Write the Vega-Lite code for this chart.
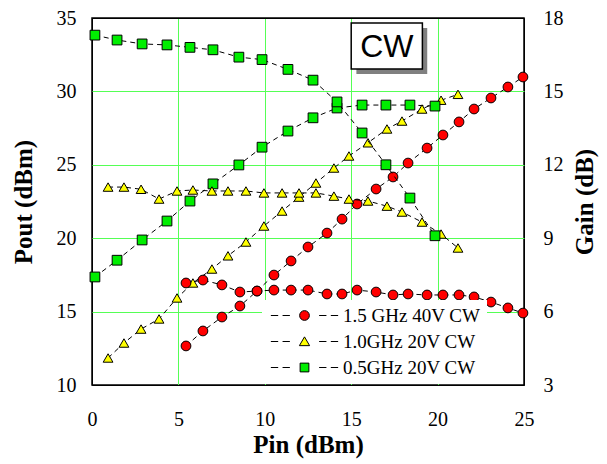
{
  "$schema": "https://vega.github.io/schema/vega-lite/v6.json",
  "width": 432,
  "height": 367,
  "autosize": {"type": "none"},
  "padding": {"left": 92, "top": 18, "right": 83, "bottom": 79},
  "background": "white",
  "data": {
    "values": [
      {"s": "1.5 GHz 40V CW", "pin": 5.44, "pout": 12.66, "gain": 7.17},
      {"s": "1.5 GHz 40V CW", "pin": 6.42, "pout": 13.68, "gain": 7.29},
      {"s": "1.5 GHz 40V CW", "pin": 7.52, "pout": 14.63, "gain": 7.09},
      {"s": "1.5 GHz 40V CW", "pin": 8.56, "pout": 15.38, "gain": 6.8},
      {"s": "1.5 GHz 40V CW", "pin": 9.55, "pout": 16.4, "gain": 6.84},
      {"s": "1.5 GHz 40V CW", "pin": 10.53, "pout": 17.49, "gain": 6.88},
      {"s": "1.5 GHz 40V CW", "pin": 11.52, "pout": 18.45, "gain": 6.88},
      {"s": "1.5 GHz 40V CW", "pin": 12.5, "pout": 19.4, "gain": 6.88},
      {"s": "1.5 GHz 40V CW", "pin": 13.6, "pout": 20.35, "gain": 6.72},
      {"s": "1.5 GHz 40V CW", "pin": 14.47, "pout": 21.3, "gain": 6.72},
      {"s": "1.5 GHz 40V CW", "pin": 15.34, "pout": 22.33, "gain": 6.88},
      {"s": "1.5 GHz 40V CW", "pin": 16.44, "pout": 23.35, "gain": 6.8},
      {"s": "1.5 GHz 40V CW", "pin": 17.42, "pout": 24.17, "gain": 6.68},
      {"s": "1.5 GHz 40V CW", "pin": 18.29, "pout": 25.12, "gain": 6.72},
      {"s": "1.5 GHz 40V CW", "pin": 19.39, "pout": 26.14, "gain": 6.68},
      {"s": "1.5 GHz 40V CW", "pin": 20.31, "pout": 27.03, "gain": 6.68},
      {"s": "1.5 GHz 40V CW", "pin": 21.24, "pout": 27.92, "gain": 6.68},
      {"s": "1.5 GHz 40V CW", "pin": 22.11, "pout": 28.8, "gain": 6.6},
      {"s": "1.5 GHz 40V CW", "pin": 23.09, "pout": 29.55, "gain": 6.39},
      {"s": "1.5 GHz 40V CW", "pin": 24.07, "pout": 30.3, "gain": 6.15},
      {"s": "1.5 GHz 40V CW", "pin": 24.94, "pout": 30.98, "gain": 5.94},
      {"s": "1.0GHz 20V CW", "pin": 0.93, "pout": 11.84, "gain": 11.09},
      {"s": "1.0GHz 20V CW", "pin": 1.85, "pout": 12.86, "gain": 11.09},
      {"s": "1.0GHz 20V CW", "pin": 2.84, "pout": 13.81, "gain": 11.0},
      {"s": "1.0GHz 20V CW", "pin": 3.88, "pout": 14.5, "gain": 10.6},
      {"s": "1.0GHz 20V CW", "pin": 4.92, "pout": 15.93, "gain": 10.93},
      {"s": "1.0GHz 20V CW", "pin": 5.84, "pout": 16.95, "gain": 10.97},
      {"s": "1.0GHz 20V CW", "pin": 6.94, "pout": 17.9, "gain": 10.93},
      {"s": "1.0GHz 20V CW", "pin": 7.87, "pout": 18.8, "gain": 10.93},
      {"s": "1.0GHz 20V CW", "pin": 8.91, "pout": 19.74, "gain": 10.93},
      {"s": "1.0GHz 20V CW", "pin": 9.95, "pout": 20.83, "gain": 10.85},
      {"s": "1.0GHz 20V CW", "pin": 11.0, "pout": 21.85, "gain": 10.85},
      {"s": "1.0GHz 20V CW", "pin": 11.98, "pout": 22.8, "gain": 10.85},
      {"s": "1.0GHz 20V CW", "pin": 12.96, "pout": 23.76, "gain": 10.85},
      {"s": "1.0GHz 20V CW", "pin": 14.0, "pout": 24.78, "gain": 10.72},
      {"s": "1.0GHz 20V CW", "pin": 14.87, "pout": 25.6, "gain": 10.6},
      {"s": "1.0GHz 20V CW", "pin": 15.97, "pout": 26.5, "gain": 10.52},
      {"s": "1.0GHz 20V CW", "pin": 17.07, "pout": 27.44, "gain": 10.31},
      {"s": "1.0GHz 20V CW", "pin": 17.94, "pout": 27.98, "gain": 10.07},
      {"s": "1.0GHz 20V CW", "pin": 19.1, "pout": 28.8, "gain": 9.66},
      {"s": "1.0GHz 20V CW", "pin": 20.2, "pout": 29.4, "gain": 9.17},
      {"s": "1.0GHz 20V CW", "pin": 21.18, "pout": 29.8, "gain": 8.6},
      {"s": "0.5GHz 20V CW", "pin": 0.17, "pout": 17.36, "gain": 17.3},
      {"s": "0.5GHz 20V CW", "pin": 1.45, "pout": 18.5, "gain": 17.1},
      {"s": "0.5GHz 20V CW", "pin": 2.9, "pout": 19.88, "gain": 16.94},
      {"s": "0.5GHz 20V CW", "pin": 4.34, "pout": 21.17, "gain": 16.9},
      {"s": "0.5GHz 20V CW", "pin": 5.67, "pout": 22.53, "gain": 16.8},
      {"s": "0.5GHz 20V CW", "pin": 7.0, "pout": 23.7, "gain": 16.7},
      {"s": "0.5GHz 20V CW", "pin": 8.5, "pout": 24.99, "gain": 16.4},
      {"s": "0.5GHz 20V CW", "pin": 9.84, "pout": 26.2, "gain": 16.3},
      {"s": "0.5GHz 20V CW", "pin": 11.34, "pout": 27.3, "gain": 15.9},
      {"s": "0.5GHz 20V CW", "pin": 12.79, "pout": 28.2, "gain": 15.46},
      {"s": "0.5GHz 20V CW", "pin": 14.18, "pout": 28.87, "gain": 14.57},
      {"s": "0.5GHz 20V CW", "pin": 15.63, "pout": 29.07, "gain": 13.3},
      {"s": "0.5GHz 20V CW", "pin": 17.01, "pout": 29.07, "gain": 12.0},
      {"s": "0.5GHz 20V CW", "pin": 18.4, "pout": 29.07, "gain": 10.64},
      {"s": "0.5GHz 20V CW", "pin": 19.85, "pout": 29.0, "gain": 9.1}
    ]
  },
  "layer": [
    {
      "layer": [
        {
          "data": {"values": [{"t": "CW"}]},
          "mark": {"type": "rect", "fill": "#808080"},
          "encoding": {
            "x": {"datum": 15.3, "type": "quantitative", "title": "Pin (dBm)", "scale": {"domain": [0, 25], "nice": false, "zero": false}},
            "x2": {"datum": 19.4},
            "y": {"datum": 34.32, "type": "quantitative", "title": "Pout (dBm)", "scale": {"domain": [10, 35], "nice": false, "zero": false}},
            "y2": {"datum": 31.19}
          }
        },
        {
          "data": {"values": [{"t": "CW"}]},
          "mark": {"type": "rect", "fill": "white", "stroke": "black", "strokeWidth": 1.5},
          "encoding": {
            "x": {"datum": 15.0, "type": "quantitative", "title": "Pin (dBm)", "scale": {"domain": [0, 25], "nice": false, "zero": false}},
            "x2": {"datum": 19.12},
            "y": {"datum": 34.66, "type": "quantitative", "title": "Pout (dBm)", "scale": {"domain": [10, 35], "nice": false, "zero": false}},
            "y2": {"datum": 31.53}
          }
        },
        {
          "data": {"values": [{"t": "CW"}]},
          "mark": {"type": "text", "font": "Liberation Sans", "fontSize": 32, "color": "black", "align": "center", "baseline": "middle", "dy": 1},
          "encoding": {
            "x": {"datum": 17.06, "type": "quantitative", "title": "Pin (dBm)", "scale": {"domain": [0, 25], "nice": false, "zero": false}},
            "y": {"datum": 33.1, "type": "quantitative", "title": "Pout (dBm)", "scale": {"domain": [10, 35], "nice": false, "zero": false}},
            "text": {"field": "t"}
          }
        },
        {
          "mark": {"type": "line", "stroke": "black", "strokeWidth": 1, "strokeDash": [5, 4]},
          "encoding": {
            "x": {"field": "pin", "type": "quantitative", "title": "Pin (dBm)",
              "scale": {"domain": [0, 25], "nice": false, "zero": false},
              "axis": {"values": [0, 5, 10, 15, 20, 25], "labelPadding": 24, "titlePadding": 3, "labelFlush": false, "labelOverlap": false,
                "gridColor": {"condition": {"test": "datum.value == 0 || datum.value == 25", "value": "black"}, "value": "#55ff55"}}},
            "y": {"field": "pout", "type": "quantitative", "title": "Pout (dBm)",
              "scale": {"domain": [10, 35], "nice": false, "zero": false},
              "axis": {"values": [10, 15, 20, 25, 30, 35], "labelPadding": 16, "titlePadding": 20, "labelOverlap": false,
                "gridColor": {"condition": {"test": "datum.value == 10 || datum.value == 35", "value": "black"}, "value": "#55ff55"}}},
            "detail": {"field": "s"}
          }
        },
        {
          "mark": {"type": "point", "filled": true, "opacity": 1, "stroke": "black", "strokeWidth": 1, "size": 95},
          "encoding": {
            "x": {"field": "pin", "type": "quantitative", "title": "Pin (dBm)"},
            "y": {"field": "pout", "type": "quantitative", "title": "Pout (dBm)"},
            "color": {"field": "s", "type": "nominal",
              "scale": {"domain": ["1.5 GHz 40V CW", "1.0GHz 20V CW", "0.5GHz 20V CW"], "range": ["#ff0000", "#ffff00", "#00ee00"]},
              "legend": {"orient": "none", "legendX": 170, "legendY": 282, "title": null, "padding": 6, "rowPadding": 6,
                "symbolOffset": 27, "labelOffset": 29, "fillColor": "white", "symbolSize": 95,
                "symbolStrokeColor": "black", "symbolStrokeWidth": 1, "symbolOpacity": 1,
                "labelFont": "Liberation Serif", "labelFontSize": 19, "labelColor": "black", "labelLimit": 300,
                "encoding": {"symbols": {"shape": {"value": {"expr": "datum.value === '1.5 GHz 40V CW' ? 'M-6.9,0H-5.4M-4.5,0H-3M3,0H4.5M5.4,0H6.9M1,0A1,1,0,1,1,-1,0A1,1,0,1,1,1,0Z' : datum.value === '1.0GHz 20V CW' ? 'M-6.9,0H-5.4M-4.5,0H-3M3,0H4.5M5.4,0H6.9M0,-0.95L-1.05,0.85L1.05,0.85Z' : 'M-6.9,0H-5.4M-4.5,0H-3M3,0H4.5M5.4,0H6.9M-0.9,-0.9H0.9V0.9H-0.9Z'"}}}}}},
            "shape": {"field": "s", "type": "nominal", "legend": null,
              "scale": {"domain": ["0.5GHz 20V CW", "1.0GHz 20V CW", "1.5 GHz 40V CW"], "range": ["square", "triangle-up", "circle"]}}
          }
        }
      ]
    },
    {
      "layer": [
        {
          "mark": {"type": "line", "stroke": "black", "strokeWidth": 1, "strokeDash": [5, 4]},
          "encoding": {
            "x": {"field": "pin", "type": "quantitative", "title": "Pin (dBm)"},
            "y": {"field": "gain", "type": "quantitative", "title": "Gain (dB)",
              "scale": {"domain": [3, 18], "nice": false, "zero": false},
              "axis": {"orient": "right", "values": [3, 6, 9, 12, 15, 18], "grid": false, "labelPadding": 19, "titlePadding": 9,
                "titleAngle": 270, "titleBaseline": "top", "labelOverlap": false}},
            "detail": {"field": "s"}
          }
        },
        {
          "mark": {"type": "point", "filled": true, "opacity": 1, "stroke": "black", "strokeWidth": 1, "size": 95},
          "encoding": {
            "x": {"field": "pin", "type": "quantitative", "title": "Pin (dBm)"},
            "y": {"field": "gain", "type": "quantitative", "title": "Gain (dB)"},
            "color": {"field": "s", "type": "nominal"},
            "shape": {"field": "s", "type": "nominal", "legend": null}
          }
        }
      ]
    }
  ],
  "resolve": {"scale": {"y": "independent"}},
  "config": {
    "view": {"stroke": "black", "strokeWidth": 1.5},
    "axis": {
      "labelFont": "Liberation Serif", "labelFontSize": 20, "labelColor": "black",
      "titleFont": "Liberation Serif", "titleFontSize": 25, "titleFontWeight": "bold", "titleColor": "black",
      "ticks": false, "domain": false, "grid": true, "gridWidth": 1, "gridOpacity": 1
    }
  }
}
